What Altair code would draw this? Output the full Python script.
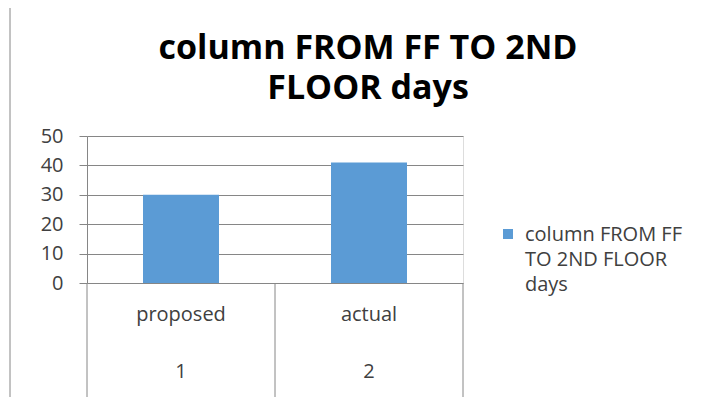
import altair as alt
import pandas as pd

categories = ["proposed", "actual"]
sub_labels = ["1", "2"]
values = [30, 41]
series_name = "column FROM FF TO 2ND FLOOR days"
title_lines = ["column FROM FF TO 2ND", "FLOOR days"]
legend_lines = ["column FROM FF", "TO 2ND FLOOR", "days"]
y_ticks = [0, 10, 20, 30, 40, 50]

FONT = "Open Sans"
GRID = "#868686"
TXT = "#404040"
BAR = "#5B9BD5"
FS = 20

df = pd.DataFrame({"cat": categories, "sub": sub_labels, "value": values, "series": series_name})

W, H = 376, 147

xs = alt.Scale(domain=categories, paddingInner=0, paddingOuter=0)
ys = alt.Scale(domain=[0, 50], nice=False)

base = alt.Chart(df)

bars = base.mark_bar(size=76, color=BAR).encode(
    x=alt.X("cat:N", scale=xs, axis=None, sort=categories),
    y=alt.Y("value:Q", scale=ys, axis=alt.Axis(
        values=y_ticks, grid=True, gridColor=GRID, domainColor=GRID, tickColor=GRID,
        tickSize=8, labelPadding=16, labelFontSize=FS, labelColor=TXT, labelFont=FONT,
        title=None, domainWidth=1, gridWidth=1)),
)

cat_text = base.mark_text(font=FONT, fontSize=FS, color=TXT, baseline="middle").encode(
    x=alt.X("cat:N", scale=xs, sort=categories), y=alt.value(179), text="cat:N")
sub_text = base.mark_text(font=FONT, fontSize=FS, color=TXT, baseline="middle").encode(
    x=alt.X("cat:N", scale=xs, sort=categories), y=alt.value(236), text="sub:N")

dividers = base.mark_rule(color=GRID, strokeWidth=1).encode(
    x=alt.X("cat:N", scale=xs, sort=categories, bandPosition=0),
    y=alt.value(147), y2=alt.value(261))
right_div = alt.Chart(df.tail(1)).mark_rule(color=GRID, strokeWidth=1).encode(
    x=alt.X("cat:N", scale=xs, sort=categories, bandPosition=1),
    y=alt.value(147), y2=alt.value(261))

tdf = pd.DataFrame({"t": [title_lines]})
title = alt.Chart(tdf).mark_text(font=FONT, fontSize=34, fontWeight="bold", color="#000000",
                                 lineHeight=40, baseline="middle").encode(
    x=alt.value(281), y=alt.value(-87), text="t")

ldf = pd.DataFrame({"series": [series_name], "lines": [legend_lines]})
leg_sym = alt.Chart(ldf).mark_square(size=100, opacity=1).encode(
    x=alt.value(421), y=alt.value(98), color=alt.Color("series:N", scale=alt.Scale(range=[BAR]), legend=None))
leg_txt = alt.Chart(ldf).mark_text(font=FONT, fontSize=FS, color=TXT, align="left",
                                   baseline="middle", lineHeight=25).encode(
    x=alt.value(438), y=alt.value(99), text="lines")

frame_top = alt.Chart(ldf).mark_rule(color=GRID).encode(
    x=alt.value(-77), x2=alt.value(640), y=alt.value(-132))
frame_left = alt.Chart(ldf).mark_rule(color=GRID).encode(
    x=alt.value(-77), y=alt.value(-132), y2=alt.value(280))

chart = alt.layer(frame_top, frame_left, bars, dividers, right_div, cat_text, sub_text,
                  title, leg_sym, leg_txt).properties(
    width=W, height=H,
    autosize=alt.AutoSizeParams(type="none"),
    padding={"left": 79, "top": 128, "right": 247, "bottom": 114},
).configure_view(stroke=None).configure(background="white")

chart.save("out.html", embed_options={"renderer": "svg", "actions": False})
